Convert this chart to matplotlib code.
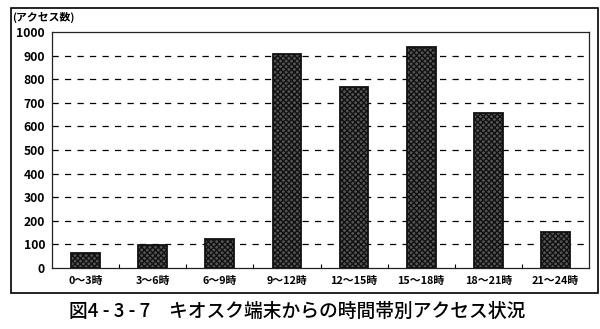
import matplotlib
matplotlib.use("Agg")
import matplotlib.pyplot as plt
from matplotlib.patches import Rectangle

plt.rcParams['font.family'] = ['Noto Sans CJK JP', 'DejaVu Sans']

categories = ["0〜3時", "3〜6時", "6〜9時", "9〜12時", "12〜15時", "15〜18時", "18〜21時", "21〜24時"]
values = [63, 98, 121, 907, 766, 937, 657, 151]
yticks = [0, 100, 200, 300, 400, 500, 600, 700, 800, 900, 1000]
ylabel = "(アクセス数)"
caption = "図4 - 3 - 7　キオスク端末からの時間帯別アクセス状況"

fig = plt.figure(figsize=(6.0, 3.29), dpi=100)
ax = fig.add_axes([52/600, 1-268/329, (589-52)/600, (268-32)/329])

x = list(range(len(categories)))
ax.bar(x, values, width=0.43, color='#555555', edgecolor='#111111',
       hatch='xxxxxx', linewidth=1.3, zorder=3)

ax.set_xlim(-0.5, len(categories) - 0.5)
ax.set_ylim(0, 1000)
ax.set_yticks(yticks)
ax.set_yticklabels([str(v) for v in yticks], fontsize=8.8, fontweight='bold')
ax.tick_params(axis='y', length=0, pad=5)

ax.set_xticks(x)
ax.set_xticklabels(categories, fontsize=7.8, fontweight='bold')
ax.tick_params(axis='x', which='major', length=0, pad=6)
ax.set_xticks([i + 0.5 for i in x[:-1]], minor=True)
ax.tick_params(axis='x', which='minor', direction='in', length=3, width=0.8)

for v in yticks[1:-1]:
    ax.axhline(v, color='black', linestyle=(0, (5, 5)), linewidth=0.9, zorder=1)

for s in ax.spines.values():
    s.set_linewidth(0.9)
    s.set_color('#222222')

fig.text(12/600, 1-17/329, ylabel, fontsize=7.8, fontweight='bold', va='center', ha='left')

frame = Rectangle((11/600, 1-293/329), (598-11)/600, (293-8)/329,
                  transform=fig.transFigure, fill=False, edgecolor='black', linewidth=1.2)
fig.patches.append(frame)

fig.text(297/600, 1-311/329, caption, fontsize=13.5, fontweight='medium', ha='center', va='center')

fig.savefig("out.png", dpi=100)
